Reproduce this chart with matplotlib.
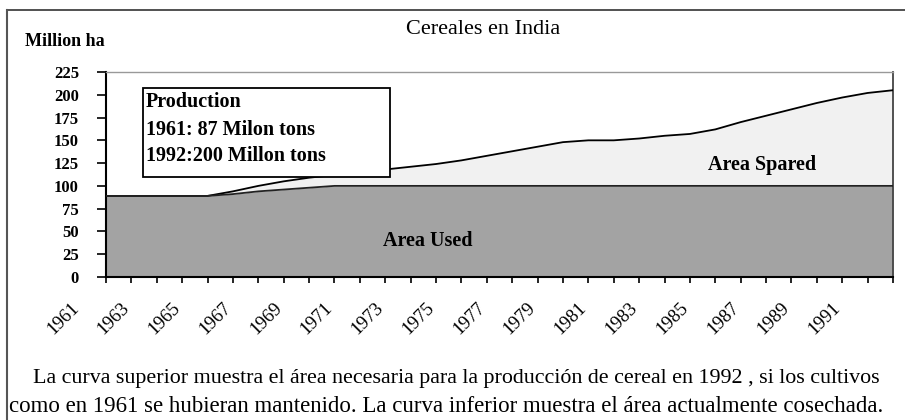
import numpy as np
import matplotlib
matplotlib.use("Agg")
import matplotlib.pyplot as plt
from matplotlib.patches import Rectangle
from matplotlib.lines import Line2D
from matplotlib.transforms import ScaledTranslation

# data (million ha)
years = list(range(1961, 1993))
area_needed = [89, 89, 89, 89, 89, 94, 100, 105, 109, 112, 115, 118, 121, 124, 128, 133,
               138, 143, 148, 150, 150, 152, 155, 157, 162, 170, 177, 184, 191, 197, 202, 205]
area_used = [89, 89, 89, 89, 89, 91, 94, 96, 98, 100, 100, 100, 100, 100, 100, 100,
             100, 100, 100, 100, 100, 100, 100, 100, 100, 100, 100, 100, 100, 100, 100, 100]
label_years = list(range(1961, 1992, 2))
y_ticks = list(range(0, 226, 25))

title = "Cereales en India"
y_label = "Million ha"
box_lines = ["Production", "1961: 87 Milon tons", "1992:200 Millon tons"]
caption1 = "La curva superior muestra el área necesaria para la producción de cereal en 1992 , si los cultivos"
caption2 = "como en 1961 se hubieran mantenido. La curva inferior muestra el área actualmente cosechada."

plt.rcParams['font.family'] = ['Liberation Serif', 'DejaVu Serif']

fig = plt.figure(figsize=(9.05, 4.2), dpi=100)
ax = fig.add_axes([106 / 905, 1 - 277 / 420, 787 / 905, 205 / 420])

# filled areas
ax.fill_between(years, 0, area_used, color='#a3a3a3', lw=0, zorder=1)
ax.fill_between(years, area_used, area_needed, color='#f1f1f1', lw=0, zorder=1)
ax.plot(years, area_needed, color='black', lw=1.3, zorder=3)
ax.plot(years, area_used, color='#222222', lw=1.3, zorder=3)

ax.set_xlim(1961, 1992)
ax.set_ylim(0, 225)
ax.set_facecolor('white')

for side in ['left', 'bottom']:
    ax.spines[side].set_color('black')
    ax.spines[side].set_linewidth(1.5)
ax.spines['top'].set_color('#999999')
ax.spines['top'].set_linewidth(1.0)
ax.spines['right'].set_color('#444444')
ax.spines['right'].set_linewidth(1.3)

ax.set_yticks(y_ticks)
ax.set_yticklabels([str(v) for v in y_ticks], fontsize=12, fontweight='bold')
ax.tick_params(axis='y', direction='out', length=6.5, width=1.2, pad=13)

ax.set_xticks(years)
ax.set_xticklabels([])
ax.tick_params(axis='x', direction='out', length=4.5, width=1.2)

# rotated year labels, shifted left of their ticks like the original
off = ScaledTranslation(-0.43, -0.42, fig.dpi_scale_trans)
for yr in label_years:
    ax.text(yr, 0, str(yr), transform=ax.transData + off, rotation=45,
            ha='center', va='center', rotation_mode='anchor', fontsize=13.5)

# production box
ax.add_patch(Rectangle((0.047, 0.488), 0.314, 0.434, transform=ax.transAxes,
                       facecolor='white', edgecolor='black', lw=1.3, zorder=5))
for txt, yy in zip(box_lines, [0.854, 0.717, 0.590]):
    ax.text(0.051, yy, txt, transform=ax.transAxes, ha='left', va='center',
            fontsize=14.5, fontweight='bold', zorder=6)

ax.text(0.409, 0.176, "Area Used", transform=ax.transAxes, ha='center', va='center',
        fontsize=14.5, fontweight='bold', zorder=4)
ax.text(0.834, 0.546, "Area Spared", transform=ax.transAxes, ha='center', va='center',
        fontsize=14.5, fontweight='bold', zorder=4)

fig.text(0.534, 0.929, title, ha='center', va='center', fontsize=16)
fig.text(0.0276, 0.9, y_label, ha='left', va='center', fontsize=13, fontweight='bold')
fig.text(0.0365, 0.1, caption1, ha='left', va='center', fontsize=15.8)
fig.text(0.01, 0.033, caption2, ha='left', va='center', fontsize=16.5)

# outer frame lines
fig.add_artist(Line2D([7 / 905, 1], [1 - 10 / 420, 1 - 10 / 420], color='#333333', lw=1.2))
fig.add_artist(Line2D([7 / 905, 7 / 905], [0, 1 - 10 / 420], color='#555555', lw=1.5))

fig.savefig('out.png', dpi=100)
